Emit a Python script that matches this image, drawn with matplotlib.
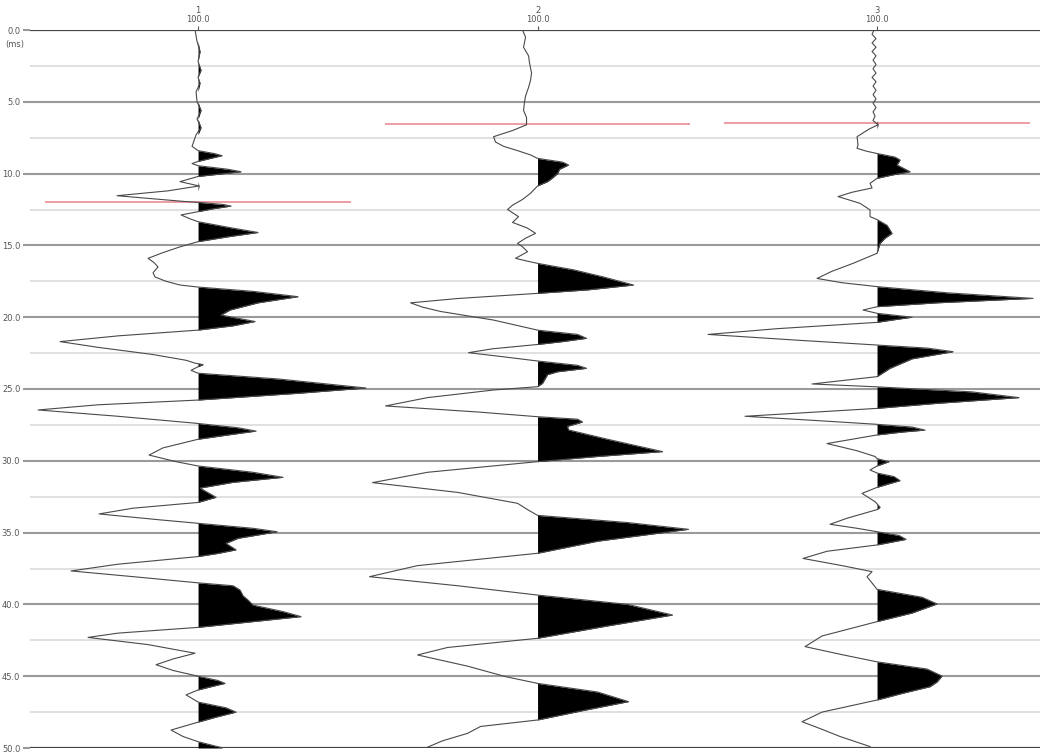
import numpy as np
import matplotlib.pyplot as plt

# trace numbers, header labels and picked first-break times (ms)
traces = [1, 2, 3]
trace_labels = ["1\n100.0", "2\n100.0", "3\n100.0"]
pick_times = [12.0, 6.55, 6.48]

# trace 1: time (ms) / amplitude
t1 = [0.0, 0.8, 1.5, 2.2, 2.8, 3.3, 3.7, 4.3, 5.0, 5.6, 6.2, 6.8, 7.3, 7.9, 8.1,
      8.4, 8.6, 8.75, 8.95, 9.15, 9.3,
      9.45, 9.7, 9.87, 10.05, 10.2, 10.56, 10.86, 11.2, 11.54, 11.75, 11.95,
      12.0, 12.15, 12.26, 12.45, 12.65, 12.88, 13.15,
      13.35, 13.8, 14.1, 14.4, 14.74, 15.1, 15.5, 15.9, 16.2, 16.5, 16.9, 17.2, 17.5, 17.76,
      17.9, 18.2, 18.57, 19.0, 19.5, 19.85, 20.3, 20.6, 20.9, 21.3, 21.7, 22.1, 22.6, 23.0,
      23.2, 23.3, 23.45, 23.7,
      23.9, 24.3, 24.93, 25.3, 25.77, 26.1, 26.46, 26.9, 27.4, 27.7, 27.93, 28.2, 28.5,
      29.1, 29.6, 30.06, 30.36, 30.8, 31.15, 31.5, 31.9, 32.3, 32.54, 32.9, 33.3, 33.7,
      34.1, 34.35, 34.7, 34.94, 35.4, 35.75, 36.2, 36.45, 36.67, 37.2, 37.67, 38.1,
      38.5, 38.7, 39.0, 39.4, 39.7, 40.05, 40.5, 40.85, 41.2, 41.6, 42.0, 42.3, 42.8,
      43.4, 43.8, 44.2, 44.6, 45.0, 45.3, 45.5, 45.75, 45.96, 46.3, 46.8, 47.2, 47.5,
      47.85, 48.2, 48.75, 49.2, 49.56, 50.0]
a1 = [-3, -1, 2, 0, 3, 0, 2, -2, -1, 3, -1, 3, -2, -5, -6,
      0, 16, 24, 12, 0, -6,
      0, 30, 43, 20, 0, -18, 1, -30, -81, -45, -12,
      0, 25, 33, 15, 0, -17, -8,
      0, 35, 60, 30, 0, -18, -35, -50, -44, -40, -45, -43, -32, -18,
      0, 55, 100, 60, 32, 23, 57, 35, 0, -80, -138, -100, -45, -12,
      -3, 5, 0, -7,
      0, 80, 168, 100, 0, -100, -160, -80, 0, 40, 58, 30, 0,
      -35, -49, -22, 0, 55, 85, 35, 2, 12, 18, 0, -65, -99,
      -40, 0, 55, 79, 40, 28, 38, 20, 0, -80, -127, -60,
      0, 35, 42, 45, 50, 55, 85, 103, 55, 0, -80, -110, -50,
      -3, -25, -42, -25, 0, 20, 27, 12, 0, -12, 0, 28, 38,
      18, 0, -27, -15, 0, 25]

# trace 2
t2 = [0.0, 0.5, 1.2, 1.8, 2.3, 3.0, 3.5, 4.0, 4.6, 5.0, 5.6, 6.1, 6.6, 7.0, 7.43,
      7.8, 8.1, 8.4, 8.7,
      8.94, 9.2, 9.4, 9.7, 10.0, 10.3, 10.56, 10.86, 11.37, 11.8, 12.2, 12.5, 13.0,
      13.4, 13.8, 14.16, 14.5, 14.86, 15.1, 15.44, 15.9, 16.1,
      16.25, 16.7, 17.2, 17.76, 18.1, 18.34, 18.7, 19.0, 19.3, 19.6, 20.2, 20.9, 21.2,
      21.47, 21.7, 21.9, 22.2, 22.47, 22.75, 23.05, 23.35, 23.56, 23.8, 24.0, 24.6, 24.84,
      25.07, 25.6, 26.18, 26.6, 26.93, 27.1, 27.3, 27.6, 27.85, 28.5, 29.36, 29.7, 30.06,
      30.8, 31.52, 32.2, 32.96, 33.4, 33.8, 34.3, 34.77, 35.6, 36.44, 37.3, 38.07, 38.7,
      39.35, 40.0, 40.74, 41.5, 42.36, 43.0, 43.52, 44.3, 45.03, 45.5, 46.1, 46.77, 47.4,
      48.05, 48.5, 48.98, 49.5, 50.0]
a2 = [-15, -12, -14, -9, -8, -6, -7, -9, -12, -13, -14, -11, -11, -25, -44,
      -42, -34, -20, -7,
      0, 25, 31, 22, 20, 15, 10, 0, -7, -15, -25, -30, -19,
      -25, -10, -2, -12, -20, -15, -10, -22, -10,
      0, 36, 66, 96, 50, 0, -80, -127, -115, -97, -44, 0, 40,
      49, 25, 0, -45, -69, -35, 0, 40, 49, 20, 10, 5, 0,
      -44, -110, -152, -60, 0, 40, 45, 30, 31, 70, 125, 60, 0,
      -110, -165, -80, -20, -10, 0, 90, 151, 60, 0, -120, -168, -80,
      0, 90, 135, 70, 0, -90, -120, -70, -32, 0, 60, 91, 45,
      0, -57, -70, -95, -112]

# trace 3
t3 = [0.0, 0.3, 0.6, 0.9, 1.2, 1.5, 1.8, 2.1, 2.4, 2.7, 3.0, 3.3, 3.6, 3.9, 4.2,
      4.5, 4.8, 5.1, 5.4, 5.7, 6.0, 6.3, 6.6, 6.9, 7.43, 8.0, 8.24, 8.45,
      8.6, 8.85, 9.05, 9.4, 9.87, 10.1, 10.33, 10.68, 11.0, 11.3, 11.6, 12.07, 12.53,
      13.0, 13.2, 13.6, 13.93, 14.16, 14.5, 14.86, 15.55, 16.25, 16.8, 17.3, 17.6,
      17.87, 18.3, 18.69, 19.0, 19.27, 19.5, 19.73, 20.0, 20.2, 20.36, 20.8, 21.2, 21.6,
      21.94, 22.15, 22.4, 22.9, 23.56, 24.14, 24.65, 24.85, 25.2, 25.6, 26.0, 26.35,
      26.9, 27.2, 27.46, 27.65, 27.86, 28.0, 28.2, 28.8, 29.3, 29.7, 29.85, 30.06,
      30.36, 30.64, 30.85, 31.1, 31.38, 31.6, 31.85, 32.27, 32.85, 33.0, 33.24, 33.4,
      33.6, 34.0, 34.42, 34.7, 34.94, 35.2, 35.47, 35.7, 35.86, 36.3, 36.8, 37.3,
      37.72, 38.07, 38.77, 38.95, 39.5, 39.97, 40.6, 41.2, 42.2, 42.94, 43.5, 44.0,
      44.5, 44.99, 45.4, 45.73, 46.2, 46.66, 47.5, 48.17, 48.7, 49.2, 49.9]
a3 = [-3, -5, -1, -5, -1, -5, -1, -4, -1, -4, -1, -5, -1, -4, -1,
      -4, -1, -4, -1, -4, -2, -4, 1, -8, -20, -19, -20, -10,
      0, 18, 23, 20, 33, 15, 0, -7, -5, -25, -39, -17, -7,
      -7, 0, 10, 13, 15, 8, 3, 0, -24, -45, -60, -35,
      0, 70, 156, 60, 0, -14, 0, 35, 15, 0, -100, -169, -80,
      0, 50, 76, 35, 13, 0, -65, 0, 95, 142, 60, 0,
      -132, -60, 0, 35, 48, 25, 0, -50, -20, -2, 0, 12,
      0, -7, 0, 17, 23, 12, 0, -15, -2, 0, 3, 0,
      -10, -30, -47, -20, 0, 22, 29, 12, 0, -50, -74, -35,
      -5, -10, -2, 0, 45, 60, 35, 0, -55, -72, -35, 0,
      50, 65, 60, 53, 25, 0, -55, -75, -55, -37, -7]

times = [t1, t2, t3]
amps = [a1, a2, a3]
gain = 1 / 339.5

fig = plt.figure(figsize=(10.4, 7.56), dpi=100)
ax = fig.add_axes([30 / 1040, 8 / 756, 1010 / 1040, 718 / 756])

# horizontal timing lines
for v in np.arange(2.5, 50, 5):
    ax.axhline(v, color="#dadada", lw=1.2, zorder=0)
for v in np.arange(5, 50, 5):
    ax.axhline(v, color="#9a9a9a", lw=1.5, zorder=0)
for v in [0, 50]:
    ax.axhline(v, color="#444444", lw=1.6, zorder=0)

# first-break picks
for tr, pk in zip(traces, pick_times):
    ax.hlines(pk, tr - 0.45, tr + 0.45, color="#e8818c", lw=1.1, zorder=1)

# variable-area wiggle traces
for tr, t, a in zip(traces, times, amps):
    t = np.array(t)
    a = np.array(a, dtype=float)
    ax.fill_betweenx(t, tr, tr + np.clip(a, 0, None) * gain, color="black", lw=0, zorder=2)
    ax.plot(tr + a * gain, t, color="#4a4a4a", lw=0.8, zorder=3)

ax.set_xlim(0.505, 3.48)
ax.set_ylim(50, 0)
for s in ax.spines.values():
    s.set_visible(False)

ax.set_yticks(np.arange(0, 50.1, 5))
ax.set_yticklabels([f"{v:.1f}" for v in np.arange(0, 50.1, 5)])
ax.tick_params(axis="y", length=5, width=1.5, color="#9a9a9a", labelsize=6,
               labelcolor="#555555", pad=2)

ax.xaxis.tick_top()
ax.set_xticks(traces)
ax.set_xticklabels(trace_labels, linespacing=1.0)
ax.tick_params(axis="x", length=3, width=0.8, color="#555555", labelsize=6,
               labelcolor="#555555", pad=1)

fig.text(15 / 1040, 1 - 44 / 756, "(ms)", ha="center", va="center", fontsize=6,
         color="#555555")

fig.savefig("out.png", dpi=100)
